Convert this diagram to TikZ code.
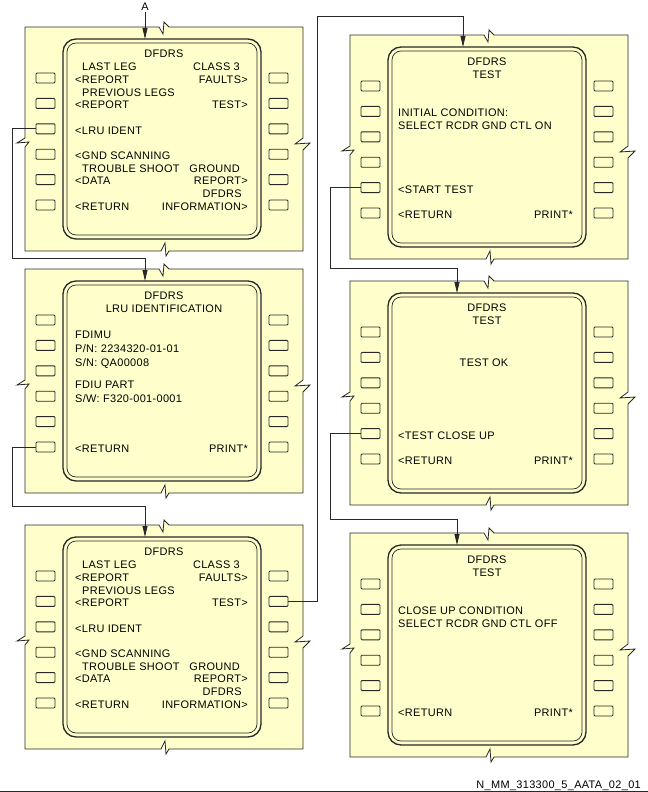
\documentclass[tikz,border=0pt]{standalone}
\usepackage{fontspec}
\setmainfont[LetterSpace=3]{Liberation Sans}
\usetikzlibrary{arrows.meta}

\definecolor{cduyellow}{RGB}{255,255,204}
\definecolor{cduline}{RGB}{40,40,40}

\begin{document}
\begin{tikzpicture}[x=1bp,y=-1bp,>={Triangle[length=11bp,width=5bp]},font=\fontsize{11}{13}\selectfont]
  \tikzstyle{frame}=[draw=cduline,fill=cduyellow,line width=0.8bp]
  \tikzstyle{screen}=[draw=cduline,line width=1.3bp,rounded corners=13bp]
  \tikzstyle{inner}=[draw=cduline,line width=0.7bp,rounded corners=9bp]
  \tikzstyle{btn}=[draw=cduline,line width=0.9bp,rounded corners=1bp,minimum width=19bp,minimum height=10bp,inner sep=0pt]
  \tikzstyle{lt}=[anchor=base west,inner sep=0pt,yshift=-1.5bp]
  \tikzstyle{rt}=[anchor=base east,inner sep=0pt,yshift=-1.5bp]
  \tikzstyle{ct}=[anchor=base,inner sep=0pt,yshift=-1.5bp]
  \tikzstyle{conn}=[draw=cduline,line width=0.8bp,->]

  \useasboundingbox (0,0) rectangle (648,792);

  % the six CDU pages: frame with break marks, screen, line select keys
  \foreach \pn/\px/\py/\ax in {L1/25/27/120,L2/25/269/120,L3/25/525/120,R1/350/35/113,R2/350/281/107,R3/350/533/107}{
    \begin{scope}[shift={(\px,\py)}]
      \filldraw[frame] (0,0) -- (134,0) -- (138,7) -- (139,-5) -- (144,0) -- (278,0)
        -- (278,111) -- (270,117) -- (285,116) -- (278,123) -- (278,224)
        -- (144,224) -- (141,229) -- (140,216) -- (136,224) -- (0,224)
        -- (0,120) -- (4,115) -- (-8,116) -- (0,111) -- cycle;
      \draw[screen] (38,12) rectangle (236,212);
      \draw[inner] (42,16) rectangle (232,208);
      \foreach \k in {1,...,6}{
        \node[btn] (\pn-l\k) at (20.5,{25.6+25.4*\k}) {};
        \node[btn] (\pn-r\k) at (253.5,{25.6+25.4*\k}) {};
      }
      \coordinate (\pn-in) at (\ax,12);
    \end{scope}
  }

  % page 1 : DFDRS menu
  \node[ct] (L1-title) at (164,56.4) {DFDRS};
  \node[lt] (L1-lastleg) at (82,69.1) {LAST LEG};
  \node[rt] (L1-class) at (240,69.1) {CLASS 3};
  \node[lt] (L1-rep1) at (75,81.8) {<REPORT};
  \node[rt] (L1-faults) at (248,81.8) {FAULTS>};
  \node[lt] (L1-prev) at (82,94.5) {PREVIOUS LEGS};
  \node[lt] (L1-rep2) at (75,107.2) {<REPORT};
  \node[rt] (L1-test) at (248,107.2) {TEST>};
  \node[lt] (L1-lru) at (75,132.6) {<LRU IDENT};
  \node[lt] (L1-gnd) at (75,158) {<GND SCANNING};
  \node[lt] (L1-trouble) at (82,170.7) {TROUBLE SHOOT};
  \node[rt] (L1-ground) at (240,170.7) {GROUND};
  \node[lt] (L1-data) at (75,183.4) {<DATA};
  \node[rt] (L1-report) at (248,183.4) {REPORT>};
  \node[rt] (L1-dfdrs) at (242,196.1) {DFDRS};
  \node[lt] (L1-ret) at (75,208.8) {<RETURN};
  \node[rt] (L1-info) at (248,208.8) {INFORMATION>};

  % page 2 : LRU identification
  \node[ct] (L2-title) at (164,298.4) {DFDRS};
  \node[ct] (L2-sub) at (164,311.1) {LRU IDENTIFICATION};
  \node[lt] (L2-fdimu) at (75,337) {FDIMU};
  \node[lt] (L2-pn) at (75,351) {P/N: 2234320-01-01};
  \node[lt] (L2-sn) at (75,365) {S/N: QA00008};
  \node[lt] (L2-fdiu) at (75,387) {FDIU PART};
  \node[lt] (L2-sw) at (75,401) {S/W: F320-001-0001};
  \node[lt] (L2-ret) at (75,451.2) {<RETURN};
  \node[rt] (L2-print) at (248,451.2) {PRINT*};

  % page 3 : DFDRS menu again
  \node[ct] (L3-title) at (164,554.4) {DFDRS};
  \node[lt] (L3-lastleg) at (82,567.1) {LAST LEG};
  \node[rt] (L3-class) at (240,567.1) {CLASS 3};
  \node[lt] (L3-rep1) at (75,579.8) {<REPORT};
  \node[rt] (L3-faults) at (248,579.8) {FAULTS>};
  \node[lt] (L3-prev) at (82,592.5) {PREVIOUS LEGS};
  \node[lt] (L3-rep2) at (75,605.2) {<REPORT};
  \node[rt] (L3-test) at (248,605.2) {TEST>};
  \node[lt] (L3-lru) at (75,630.6) {<LRU IDENT};
  \node[lt] (L3-gnd) at (75,656) {<GND SCANNING};
  \node[lt] (L3-trouble) at (82,668.7) {TROUBLE SHOOT};
  \node[rt] (L3-ground) at (240,668.7) {GROUND};
  \node[lt] (L3-data) at (75,681.4) {<DATA};
  \node[rt] (L3-report) at (248,681.4) {REPORT>};
  \node[rt] (L3-dfdrs) at (242,694.1) {DFDRS};
  \node[lt] (L3-ret) at (75,706.8) {<RETURN};
  \node[rt] (L3-info) at (248,706.8) {INFORMATION>};

  % page 4 : test, initial condition
  \node[ct] (R1-title) at (487,64.4) {DFDRS};
  \node[ct] (R1-sub) at (487,77.1) {TEST};
  \node[lt] (R1-init) at (398,115.2) {INITIAL CONDITION:};
  \node[lt] (R1-sel) at (398,127.9) {SELECT RCDR GND CTL ON};
  \node[lt] (R1-start) at (398,192.4) {<START TEST};
  \node[lt] (R1-ret) at (398,216.8) {<RETURN};
  \node[rt] (R1-print) at (573,216.8) {PRINT*};

  % page 5 : test ok
  \node[ct] (R2-title) at (487,310.4) {DFDRS};
  \node[ct] (R2-sub) at (487,323.1) {TEST};
  \node[ct] (R2-ok) at (484,365) {TEST OK};
  \node[lt] (R2-close) at (398,438.4) {<TEST CLOSE UP};
  \node[lt] (R2-ret) at (398,462.8) {<RETURN};
  \node[rt] (R2-print) at (573,462.8) {PRINT*};

  % page 6 : close up condition
  \node[ct] (R3-title) at (487,562.4) {DFDRS};
  \node[ct] (R3-sub) at (487,575.1) {TEST};
  \node[lt] (R3-cond) at (398,613.2) {CLOSE UP CONDITION};
  \node[lt] (R3-sel) at (398,625.9) {SELECT RCDR GND CTL OFF};
  \node[lt] (R3-ret) at (398,714.8) {<RETURN};
  \node[rt] (R3-print) at (573,714.8) {PRINT*};

  % flow between pages
  \node[inner sep=1bp] (A) at (145,7) {A};
  \draw[conn] (A) -- (L1-in);
  \draw[conn] (L1-l3.west) -| (12,258) -| (L2-in);
  \draw[conn] (L2-l6.west) -| (12,506) -| (L3-in);
  \draw[conn] (L3-r2.east) -| (317,16) -| (R1-in);
  \draw[conn] (R1-l5.west) -| (330,268) -| (R2-in);
  \draw[conn] (R2-l5.west) -| (330,519) -| (R3-in);

  \node[rt] (docref) at (641,787) {N\_MM\_313300\_5\_AATA\_02\_01};
  \draw[draw=cduline,line width=0.8bp] (0,791.5) -- (648,791.5);
\end{tikzpicture}
\end{document}
